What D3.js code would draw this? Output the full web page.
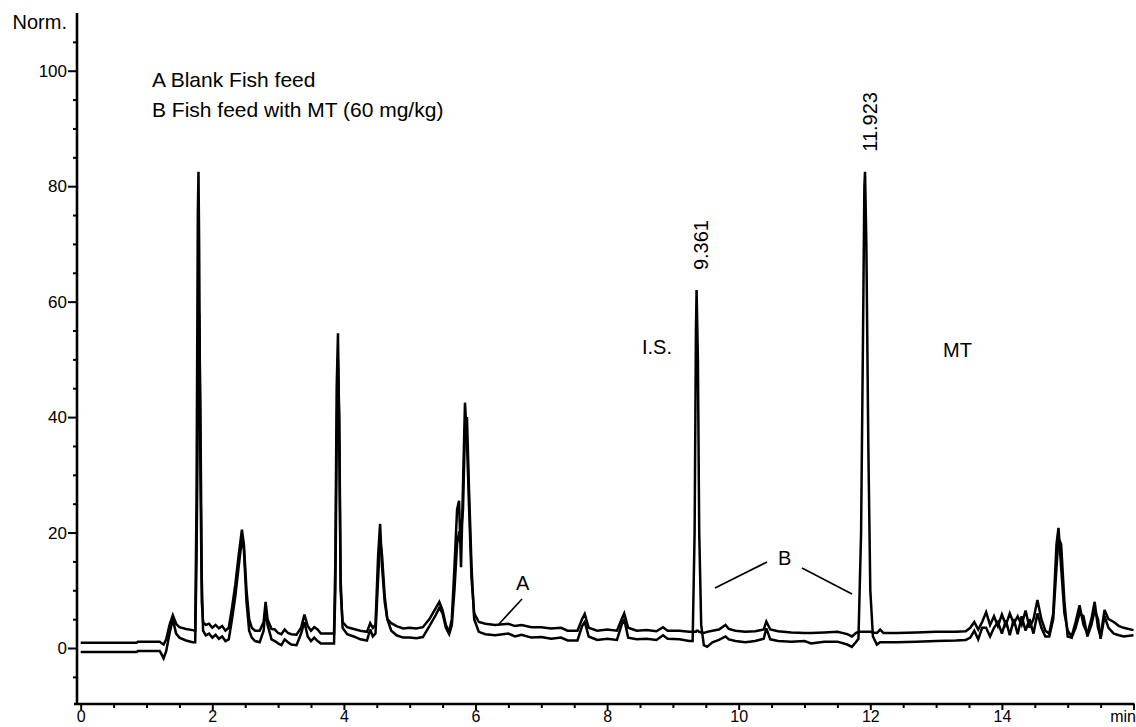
<!DOCTYPE html>
<html lang="en">
<head>
    <meta charset="UTF-8">
    <title>Chromatogram - fish feed</title>
    <script src="https://d3js.org/d3.v7.min.js"></script>
    <style>
        body {
            margin: 0;
            background-color: #ffffff;
        }
        svg {
            display: block;
            font-family: "Liberation Sans", Arial, Helvetica, sans-serif;
        }
        .trace {
            fill: none;
            stroke: #000;
            stroke-width: 2.5;
            stroke-linejoin: miter;
            stroke-miterlimit: 3;
        }
        .tick line {
            stroke: #000;
            stroke-width: 2;
        }
    </style>
</head>
<body>
    <div id="chart"></div>

    <script>
        // retention time (min), shared by both traces
        const times = [
            0, 0.85, 0.87, 1.2, 1.22, 1.26, 1.3, 1.35, 1.4, 1.45,
            1.5, 1.6, 1.7, 1.74, 1.76, 1.78, 1.79, 1.8, 1.82, 1.84,
            1.86, 1.9, 1.95, 2.0, 2.05, 2.1, 2.15, 2.2, 2.25, 2.3,
            2.35, 2.4, 2.45, 2.48, 2.52, 2.56, 2.6, 2.65, 2.72, 2.78,
            2.81, 2.84, 2.9, 2.95, 3.0, 3.05, 3.1, 3.15, 3.2, 3.28,
            3.35, 3.4, 3.45, 3.5, 3.55, 3.6, 3.65, 3.85, 3.87, 3.89,
            3.91, 3.93, 3.95, 3.98, 4.05, 4.15, 4.25, 4.35, 4.4, 4.44,
            4.48, 4.52, 4.55, 4.58, 4.62, 4.66, 4.72, 4.8, 4.9, 5.0,
            5.1, 5.2, 5.3, 5.4, 5.45, 5.5, 5.55, 5.6, 5.64, 5.68,
            5.72, 5.75, 5.78, 5.81, 5.84, 5.87, 5.9, 5.94, 5.98, 6.05,
            6.15, 6.3, 6.5, 6.6, 6.7, 6.85, 7.0, 7.15, 7.3, 7.4,
            7.55, 7.62, 7.66, 7.72, 7.85, 8.0, 8.15, 8.22, 8.26, 8.32,
            8.45, 8.6, 8.75, 8.85, 8.92, 9.1, 9.25, 9.3, 9.33, 9.35,
            9.36, 9.38, 9.4, 9.43, 9.47, 9.52, 9.6, 9.7, 9.8, 9.85,
            9.95, 10.1, 10.25, 10.38, 10.42, 10.48, 10.6, 10.8, 11.0, 11.1,
            11.3, 11.5, 11.65, 11.72, 11.78, 11.82, 11.86, 11.89, 11.91, 11.92,
            11.94, 11.97, 12.0, 12.04, 12.1, 12.15, 12.2, 12.4, 12.7, 13.0,
            13.3, 13.45, 13.52, 13.58, 13.64, 13.7, 13.76, 13.82, 13.88, 13.94,
            14.0, 14.06, 14.12, 14.18, 14.24, 14.3, 14.36, 14.42, 14.48, 14.54,
            14.6, 14.66, 14.72, 14.78, 14.83, 14.86, 14.9, 14.95, 15.0, 15.06,
            15.12, 15.18, 15.24, 15.3, 15.36, 15.41, 15.46, 15.5, 15.56, 15.62,
            15.7, 15.78, 15.85, 16.0
        ];

        // A: blank fish feed (normalised response)
        const blankA = [
            0.9, 0.9, 1.1, 1.1, 0.9, 0.6, 1.5, 4.0, 5.7, 4.2,
            3.6, 3.3, 3.1, 3.0, 25, 75, 82.5, 70, 30, 8,
            4.5, 4.0, 4.2, 3.5, 4.0, 3.4, 3.8, 3.0, 3.5, 7,
            11, 16, 20.5, 18, 10, 5, 3.5, 3.0, 3.0, 4.5,
            8.0, 5, 3.3, 3.2, 2.6, 2.4, 3.2, 2.6, 2.4, 2.3,
            3.5, 5.8, 3.8, 3.0, 3.6, 3.2, 2.5, 2.5, 15, 45,
            54.5, 35, 10, 4.5, 3.6, 3.3, 3.0, 2.8, 4.3, 3.5,
            4, 16, 21.5, 14, 8, 5, 4.3, 3.8, 3.4, 3.5,
            3.4, 3.6, 5.0, 7.0, 8.0, 6.5, 4.0, 2.8, 5, 14,
            24, 25.5, 14, 28, 42.5, 36, 25, 12, 6, 4.5,
            4.2, 4.0, 4.2, 3.8, 4.0, 3.6, 3.6, 3.4, 3.5, 3.0,
            3.0, 5.0, 5.9, 3.5, 3.0, 3.2, 3.0, 5.0, 6.0, 3.5,
            3.0, 3.1, 2.9, 3.6, 3.0, 3.0, 2.8, 2.8, 2.8, 2.8,
            3.0, 3.0, 2.8, 2.7, 2.6, 2.8, 3.0, 3.2, 4.0, 3.3,
            3.0, 2.8, 2.9, 3.2, 4.6, 3.2, 2.9, 2.7, 2.6, 2.6,
            2.7, 2.8, 2.4, 2.0, 2.6, 2.8, 2.8, 2.8, 2.8, 2.8,
            2.8, 2.8, 2.8, 2.7, 2.6, 3.2, 2.6, 2.6, 2.7, 2.8,
            2.8, 2.9, 3.5, 4.5, 3.2, 4.5, 6.2, 4.0, 5.5, 3.8,
            5.8, 4.0, 6.0, 4.2, 5.5, 4.0, 6.5, 3.5, 5.0, 8.3,
            5.0, 3.0, 2.5, 6.0, 18, 20.8, 14, 6, 3, 2.0,
            4.5, 7.4, 4.0, 2.5, 5.0, 8.0, 3.5, 2.0, 6.6, 5.0,
            4.5, 3.8, 3.5, 3.1
        ];

        // B: fish feed with MT (60 mg/kg)
        const spikedB = [
            -0.7, -0.7, -0.5, -0.5, -0.9, -1.8, -0.5, 2.5, 5.0, 2.5,
            1.8, 1.3, 1.0, 1.0, 15, 40, 55, 58, 40, 12,
            3, 2.2, 2.5, 1.8, 2.3, 1.6, 2.0, 1.2, 1.5, 5,
            9, 14, 19, 17, 8, 3, 1.8, 1.2, 1.0, 3,
            7, 4, 1.5, 1.2, 0.8, 0.5, 1.5, 1.0, 0.6, 0.5,
            2.5, 4.5, 2.0, 1.2, 1.8, 1.2, 0.8, 0.8, 10, 35,
            50, 40, 12, 3.5, 2.4, 2.0, 1.5, 1.3, 3.2, 2.0,
            2.5, 12, 19, 16, 9, 5, 3.0, 2.2, 1.8, 1.8,
            1.7, 1.9, 3.8, 5.8, 7.0, 6.0, 3.5, 2.4, 4, 10,
            18, 20, 20, 24, 38, 40, 28, 14, 5, 2.8,
            2.4, 2.2, 2.5, 2.0, 2.3, 1.8, 1.9, 1.6, 1.8, 1.3,
            1.3, 3.8, 4.5, 2.0, 1.4, 1.6, 1.4, 4.0, 5.0, 1.8,
            1.5, 1.6, 1.4, 2.2, 1.6, 1.5, 1.2, 1.2, 20, 55,
            62, 50, 20, 4, 0.5, 0.2, 1.0, 1.4, 2.0, 1.5,
            1.2, 1.0, 1.2, 1.6, 3.4, 1.5, 1.2, 1.1, 1.2, 0.8,
            1.1, 1.1, 0.6, 0.2, 1.0, 1.6, 20, 55, 80, 82.5,
            70, 35, 10, 2.0, 0.6, 1.0, 1.0, 1.0, 1.1, 1.2,
            1.3, 1.4, 1.8, 3.0, 1.5, 3.5, 3.5, 2.0, 3.5, 4.5,
            2.5, 4.8, 2.2, 5.0, 2.4, 5.5, 3.0, 5.0, 2.5, 6.0,
            3.5, 2.0, 2.0, 5.0, 14, 19, 18, 8, 2.0, 1.8,
            3.5, 6.0, 5.5, 2.0, 4.0, 6.5, 5.0, 1.6, 5.5, 3.5,
            2.5, 2.2, 2.0, 2.2
        ];

        const xMajorTicks = [0, 2, 4, 6, 8, 10, 12, 14, 16];
        const xTickLabels = ["0", "2", "4", "6", "8", "10", "12", "14", "min"];
        const yMajorTicks = [0, 20, 40, 60, 80, 100];
        const legendLines = ["A Blank Fish feed", "B Fish feed with MT (60 mg/kg)"];

        const width = 1136, height = 727;
        const axisX = 77, axisBottomY = 704, axisTopY = 13;

        const svg = d3.select("#chart").append("svg")
            .attr("width", width)
            .attr("height", height);

        const x = d3.scaleLinear().domain([0, 16]).range([80.7, 1133.5]);
        const y = d3.scaleLinear().domain([-9.7, 110]).range([axisBottomY, axisTopY]);

        // axis lines
        svg.append("line")
            .attr("x1", axisX).attr("x2", axisX)
            .attr("y1", axisTopY).attr("y2", axisBottomY + 1)
            .attr("stroke", "#000").attr("stroke-width", 2.6);
        svg.append("line")
            .attr("x1", axisX - 3).attr("x2", x(16) + 1)
            .attr("y1", axisBottomY).attr("y2", axisBottomY)
            .attr("stroke", "#000").attr("stroke-width", 2.6);

        // x ticks: minor every 0.5 min, major every 2
        const xMinor = d3.range(0, 16.01, 0.5).filter(t => t % 2 !== 0);
        svg.append("g")
            .attr("transform", `translate(0,${axisBottomY})`)
            .call(d3.axisBottom(x).tickValues(xMinor).tickSize(4).tickFormat(""))
            .call(g => g.select(".domain").remove());

        const xAxis = svg.append("g")
            .attr("transform", `translate(0,${axisBottomY})`)
            .call(d3.axisBottom(x).tickValues(xMajorTicks).tickSize(6).tickPadding(1)
                .tickFormat((d, i) => xTickLabels[i]))
            .call(g => g.select(".domain").remove());
        xAxis.selectAll("text")
            .attr("font-size", 16)
            .attr("fill", "#000")
            .attr("font-family", "Liberation Sans, Arial, sans-serif");
        xAxis.selectAll(".tick").filter(d => d === 16).select("text")
            .attr("text-anchor", "end")
            .attr("dx", 2);

        // y ticks: minor every 5, labelled every 20
        const yMinor = d3.range(-5, 110, 5).filter(v => v % 20 !== 0);
        svg.append("g")
            .attr("transform", `translate(${axisX},0)`)
            .call(d3.axisLeft(y).tickValues(yMinor).tickSize(4).tickFormat(""))
            .call(g => g.select(".domain").remove());

        const yAxis = svg.append("g")
            .attr("transform", `translate(${axisX},0)`)
            .call(d3.axisLeft(y).tickValues(yMajorTicks).tickSize(9).tickPadding(1))
            .call(g => g.select(".domain").remove());
        yAxis.selectAll("text")
            .attr("font-size", 17)
            .attr("fill", "#000")
            .attr("font-family", "Liberation Sans, Arial, sans-serif");

        svg.append("text")
            .attr("x", 67).attr("y", 29)
            .attr("text-anchor", "end")
            .attr("font-size", 20)
            .text("Norm.");

        // traces
        const line = d3.line()
            .x(d => x(d[0]))
            .y(d => y(d[1]));

        const rowsA = d3.zip(times, blankA);
        const rowsB = d3.zip(times, spikedB);

        svg.append("path").datum(rowsA).attr("class", "trace").attr("d", line);
        svg.append("path").datum(rowsB).attr("class", "trace").attr("d", line);

        // legend text
        svg.selectAll(".legend")
            .data(legendLines)
            .enter().append("text")
            .attr("class", "legend")
            .attr("x", 152)
            .attr("y", (d, i) => 87 + i * 30)
            .attr("font-size", 21)
            .text(d => d);

        // peak labels (retention times, rotated)
        const peakLabels = [
            { t: 9.361, v: 62, text: "9.361" },
            { t: 11.923, v: 82.5, text: "11.923" }
        ];
        peakLabels.forEach(p => {
            const px = x(p.t) + 11.5;
            const py = y(p.v) - 20;
            svg.append("text")
                .attr("transform", `translate(${px},${py}) rotate(-90)`)
                .attr("font-size", 20)
                .text(p.text);
        });

        svg.append("text").attr("x", 642).attr("y", 354).attr("font-size", 20).text("I.S.");
        svg.append("text").attr("x", 943).attr("y", 357).attr("font-size", 20).text("MT");

        // trace pointers
        svg.append("text").attr("x", 516).attr("y", 590).attr("font-size", 20).text("A");
        svg.append("text").attr("x", 778).attr("y", 565).attr("font-size", 20).text("B");

        const pointers = [
            [522, 599, 499, 624],
            [767, 562, 715, 588],
            [802, 568, 852, 594]
        ];
        svg.selectAll(".pointer")
            .data(pointers)
            .enter().append("line")
            .attr("class", "pointer")
            .attr("x1", d => d[0]).attr("y1", d => d[1])
            .attr("x2", d => d[2]).attr("y2", d => d[3])
            .attr("stroke", "#000")
            .attr("stroke-width", 1.6);
    </script>
</body>
</html>
